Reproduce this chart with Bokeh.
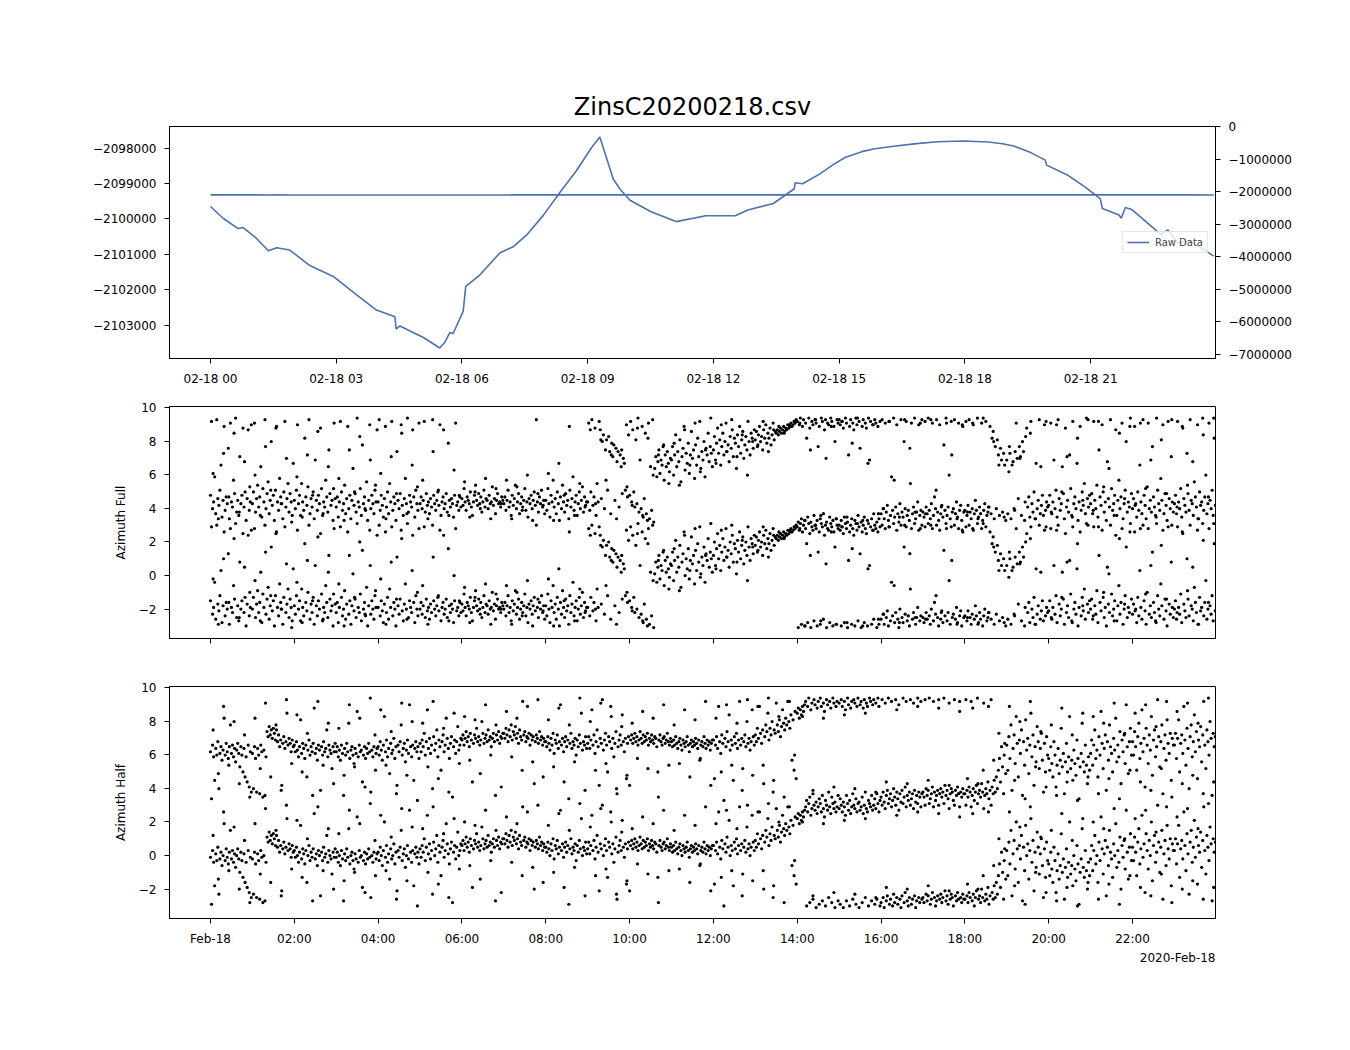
import math
from bokeh.plotting import figure
from bokeh.models import (Range1d, LinearAxis, FixedTicker, Legend, LegendItem, Title)
from bokeh.layouts import column
from bokeh.embed import file_html
from bokeh.resources import INLINE

TITLE = "ZinsC20200218.csv"

# ---- top panel: raw data (hours since 2020-02-18 00:00, raw value) ----
RAW_T = [0.00, 0.30, 0.66, 0.78, 1.10, 1.38, 1.58, 1.89, 2.37, 2.93, 3.48, 3.96,
         4.40, 4.43, 4.52, 5.08, 5.47, 5.59, 5.71, 5.79, 6.03, 6.09, 6.43, 6.91,
         7.22, 7.54, 7.94, 8.34, 8.73, 9.09, 9.29, 9.61, 9.77, 10.01, 10.51, 11.11,
         11.82, 12.52, 12.82, 13.43, 13.93, 13.95, 14.13, 14.54, 14.84, 15.14, 15.54,
         15.85, 16.35, 16.85, 17.35, 17.96, 18.56, 18.90, 19.16, 19.57, 19.92, 19.95,
         20.47, 20.87, 21.23, 21.28, 21.68, 21.73, 21.83, 21.98, 22.68, 22.84, 23.09,
         23.39, 23.94]
RAW_V = [-2099648, -2099980, -2100271, -2100243, -2100551, -2100897, -2100813, -2100877,
         -2101315, -2101622, -2102134, -2102572, -2102760, -2103110, -2103019, -2103344,
         -2103640, -2103485, -2103205, -2103232, -2102600, -2101902, -2101575, -2100952,
         -2100785, -2100458, -2099899, -2099249, -2098642, -2097991, -2097690, -2098874,
         -2099154, -2099472, -2099796, -2100075, -2099908, -2099908, -2099749, -2099564,
         -2099148, -2098980, -2099008, -2098729, -2098480, -2098265, -2098101,
         -2098020, -2097941, -2097875, -2097821, -2097801, -2097829, -2097880, -2097941,
         -2098128, -2098341, -2098481, -2098777, -2099101, -2099425, -2099704, -2099889,
         -2099982, -2099676, -2099732, -2100444, -2100307, -2100676, -2100628, -2101047]

TOP_TICK_HOURS = [0, 3, 6, 9, 12, 15, 18, 21]
TOP_TICK_LABELS = ["02-18 00", "02-18 03", "02-18 06", "02-18 09",
                   "02-18 12", "02-18 15", "02-18 18", "02-18 21"]
BOT_TICK_HOURS = [0, 2, 4, 6, 8, 10, 12, 14, 16, 18, 20, 22]
BOT_TICK_LABELS = ["Feb-18", "02:00", "04:00", "06:00", "08:00", "10:00",
                   "12:00", "14:00", "16:00", "18:00", "20:00", "22:00"]
DATE_OFFSET_LABEL = "2020-Feb-18"
LEFT_TICKS = [-2103000, -2102000, -2101000, -2100000, -2099000, -2098000]
RIGHT_TICKS = [0, -1000000, -2000000, -3000000, -4000000, -5000000, -6000000, -7000000]
AZ_TICKS = [-2, 0, 2, 4, 6, 8, 10]
LEGEND_LABEL = "Raw Data"
AZ_FULL_LABEL = "Azimuth Full"
AZ_HALF_LABEL = "Azimuth Half"

# ---- azimuth phases in [-pi, pi], one row per hour (samples evenly spread within the hour) ----
AZ_FULL = [
 [-1.5, 2.9, -2.3, -1.9, -0.4, -2.6, 3.0, -1.7, -2.1, -1.2, 0.3, -2.8, -1.8, 2.6, -2.4, -1.6, -2.0, 1.3, -2.9, 2.8, -1.9, -2.2, -0.6, -1.4, 3.1, -2.5, -1.8, -2.7, 0.8, -2.0, -1.5, 2.5, -2.2, -1.3, -3.0, -1.7, 2.4, -2.4, -1.9, 2.7],
 [-2.0, -1.3, 2.8, -2.5, -1.7, -0.9, -2.2, -1.6, 0.2, -2.8, -1.1, -1.9, 3.0, -2.3, -1.4, -0.7, -2.6, -1.8, 1.7, -2.1, -1.5, -3.0, -1.2, 2.6, -1.9, -2.4, -0.5, -1.6, -2.0, -2.9, -1.3, 2.9, -2.2, -1.7, -0.8, -2.5, -1.4, -1.9, -2.7, 0.4],
 [-1.8, -2.3, -1.2, 2.7, -2.0, -1.5, -2.7, -0.8, -1.9, -2.4, 1.9, -1.6, -2.1, -1.0, 3.0, -2.6, -1.7, -2.2, -1.3, -2.9, 0.6, -1.8, -2.4, -1.5, -2.0, 2.5, -1.1, -2.7, -1.9, -2.2, -0.6, -1.6, -2.5, 1.2, -1.4, -2.1, -1.8, -3.0, 2.8, -1.7],
 [-2.2, -1.6, -2.8, -1.9, 2.9, -1.3, -2.4, -2.0, -0.9, -2.6, -1.7, 2.6, -2.3, -1.5, -2.9, -1.8, 0.1, -2.1, -1.4, -2.5, 3.1, -1.9, -2.2, -1.1, -2.7, 1.5, -2.0, -1.6, -2.4, -0.7, -3.0, -1.8, 2.7, -2.3, -1.5, -2.0, -2.6, -1.2, -1.9, 2.4],
 [-1.9, 3.0, -2.4, -1.5, -2.1, -2.8, -1.7, 2.6, -2.2, -1.3, -2.6, -0.8, -1.9, 2.9, -2.4, -1.6, -2.0, -3.0, 1.1, -1.8, -2.3, -1.4, 2.7, -2.1, -2.7, -1.7, -0.5, -2.0, 3.1, -2.5, -1.5, -1.9, -2.2, 2.4, -1.6, -2.8, -1.2, -2.0, -2.4, 2.8],
 [-2.0, -1.6, -2.3, -1.8, 2.9, -2.5, -1.4, -2.1, -1.9, -2.6, -1.7, -2.2, 3.0, -1.5, -2.0, -2.4, -1.8, -1.3, -2.1, 2.7, -2.7, -1.9, -1.6, -2.3, -2.0, -1.4, -2.5, 1.6, -1.8, -2.2, -1.7, -2.0, -2.8, -1.5, 2.8, -2.1, -1.9, -2.4, -1.6, -2.2],
 [-1.7, -2.1, -1.1, -1.9, -2.4, -1.6, -1.8, -2.0, -1.3, -2.2, -2.7, -1.9, -1.5, -0.9, -1.8, -2.1, -1.4, -2.0, -1.6, -2.5, -1.9, -1.2, -2.2, -1.7, -1.8, -2.3, -1.5, -2.0, -1.9, -1.0, -2.1, -1.7, -2.6, -1.8, -1.4, -2.0, -1.9, -2.2, -1.6, -1.8],
 [-2.0, -1.6, -2.4, -1.8, -1.2, -2.2, -1.9, -2.7, -1.5, -2.1, -1.7, -0.9, -2.3, -1.9, -1.4, -2.6, -2.0, -1.6, -2.2, -1.8, -1.1, -2.4, -1.9, -2.8, -1.7, -2.0, -1.5, -2.3, -1.8, -1.3, -2.1, 3.0, -1.9, -2.5, -1.6, -2.0, -1.2, -2.2, -1.8, -2.6],
 [-1.8, -2.4, -1.1, -2.0, -2.8, -1.5, -1.9, -0.6, -2.2, -1.7, -2.6, -1.3, -2.0, -3.0, -1.6, -2.3, -0.9, -1.9, -2.5, -1.4, -2.1, -1.8, -2.9, -1.2, -2.2, -1.7, -0.4, -2.4, -1.9, -1.5, -2.7, -2.0, -1.3, -2.3, -1.8, -1.0, -2.5, -1.6, -2.1, -1.9],
 [-1.9, 2.8, -2.4, -1.3, 3.0, -2.1, -1.6, 2.5, -2.7, -0.8, -1.9, 2.9, 2.4, -1.7, 1.7, 2.1, -2.3, 1.2, 1.8, -1.2, 2.0, 1.1, -2.6, 1.6, 0.8, 1.5, -1.8, 1.3, 0.5, 1.1, -2.2, 0.9, 0.2, -1.4, 0.7, 0.4, -1.2, 2.7, -1.6, 2.1],
 [-1.5, 2.9, -1.9, 2.4, -1.3, -2.2, 1.8, -2.0, 3.1, -2.5, 0.6, -2.3, 2.6, -2.8, -1.7, 2.2, -2.6, -3.0, 2.8, -2.9, 0.2, -2.4, 3.0, -3.1, 0.1, 0.8, -0.4, 0.5, 1.2, -0.2, 0.6, 0.3, 1.4, -0.6, 0.9, 0.2, 1.1, 0.4, -0.1, 0.7],
 [0.6, 1.4, -0.3, 0.9, 2.1, 0.2, 1.1, 0.5, 1.8, -0.7, 0.8, 1.3, 2.6, 0.0, 1.0, 0.4, 1.6, -0.2, 0.9, 2.3, 0.7, 1.2, -0.5, 1.5, 0.3, 1.9, 0.8, 2.9, 0.1, 1.1, 0.6, 1.7, -0.4, 1.3, 0.9, 2.2, 0.5, 1.4, 1.0, 0.2],
 [1.2, 2.0, 0.6, 1.6, 2.5, 1.0, 1.8, 0.3, 1.4, 2.2, 0.9, 1.7, 2.8, 1.1, 1.5, 0.5, 2.0, 1.3, 2.4, 0.8, 1.9, 1.6, 0.1, 2.1, 1.4, 2.6, 1.0, 1.8, 2.3, 0.7, 1.5, 2.0, 1.2, 2.9, 1.7, 0.9, 2.2, 1.9, 1.3, 2.4],
 [1.8, 2.3, 1.4, 2.1, 2.6, 1.7, 2.0, 1.2, 2.4, 1.9, 2.7, 1.6, 2.2, 1.9, 2.5, 1.5, 2.1, 2.8, 1.8, 2.3, 2.2, 2.4, 2.1, 2.3, 2.5, 2.2, 2.4, 2.6, 2.3, 2.5, 2.4, 2.7, 2.5, 2.6, 2.8, 2.6, 2.7, 2.9, 2.8, 3.0],
 [2.9, -3.1, 2.7, 3.1, -2.9, 2.6, 3.0, -3.0, 2.8, 1.9, -2.8, 3.1, 2.5, -3.1, 2.9, 2.7, -2.7, 3.0, 2.8, -3.0, 1.4, 2.6, -2.9, 3.1, 2.9, -2.6, 2.4, 3.0, -3.1, 2.8, 2.7, -2.8, 3.1, 2.9, -3.0, 2.6, 1.7, -2.9, 3.0, 2.8],
 [3.0, 2.7, -3.0, 2.9, 2.5, -2.8, 3.1, 2.8, -3.1, 0.9, 2.6, 3.0, -2.9, 2.8, 2.4, -3.0, 3.1, 2.7, -2.7, 2.9, 1.3, -3.1, 2.6, 3.0, -2.8, 2.8, 2.5, -3.0, 3.1, 0.6, 2.9, -2.9, 2.7, -2.6, 3.0, 2.8, -3.1, 2.6, -2.9, 2.9],
 [-2.6, 3.0, -2.3, -2.9, 2.8, -2.5, -2.1, -3.0, 2.9, -2.7, -0.4, -2.4, 3.1, -2.8, -2.2, 2.7, -2.6, -3.1, -2.0, 3.0, -2.5, -2.8, 1.7, -2.3, 2.9, -2.7, -2.4, -3.0, -0.8, 2.8, -2.6, -2.2, 3.1, -2.9, -2.5, -1.9, 2.7, -2.7, -2.4, 3.0],
 [-2.5, -2.8, 2.9, -2.2, -2.6, 3.1, -2.4, -2.9, -2.0, 2.8, -2.7, -1.6, -2.3, 3.0, -2.5, -3.0, 2.7, -2.6, -2.1, -2.8, 1.5, -2.4, 3.1, -2.7, -2.2, -0.3, -2.9, 2.9, -2.5, -2.3, 3.0, -2.6, -1.9, -2.8, 2.8, -2.4, -2.1, -3.0, 2.6, -2.5],
 [-2.4, 2.9, -2.7, -2.1, 3.0, -2.5, -2.9, -2.3, 2.7, -2.6, -1.8, -2.4, 3.1, -2.8, -2.2, -2.6, 2.8, -3.0, -2.4, -2.0, 2.9, -2.7, -2.5, -2.2, 2.6, -2.6, 1.9, 2.3, -2.9, 1.4, -2.3, 1.8, 0.9, -2.7, 1.3, 0.6, -2.5, 1.0, 0.3, -3.0],
 [0.6, -2.6, -0.1, 1.0, -2.9, 0.3, 0.5, -2.3, 1.1, 2.8, 0.7, -1.7, 1.4, 0.8, -2.7, 1.7, 1.1, -3.0, 2.0, 2.5, -2.2, -1.6, -2.8, 2.9, -2.0, -2.5, -1.3, -2.9, 0.4, -2.3, -1.8, 3.0, -2.6, -2.1, -1.5, -2.7, 2.7, -2.4, -1.9, -2.2],
 [-2.1, -1.5, 2.8, -2.6, -1.9, 0.6, -2.3, -1.2, -2.8, 3.0, -1.7, -2.4, -2.0, 0.2, -1.4, -2.9, 2.5, -2.2, -1.8, -2.5, 0.9, -1.1, -2.7, 2.9, -2.0, -1.6, -2.3, 0.4, -3.0, -1.9, 2.6, -2.4, -1.3, -2.1, -0.8, -2.6, 3.1, -1.7, -2.2, -1.5],
 [-2.0, -1.4, -2.6, 2.9, -1.8, -2.3, -0.9, -2.8, 1.2, -1.6, -2.1, 2.7, -1.3, -2.5, -1.9, -3.0, 0.5, -1.7, -2.2, 3.0, -1.1, -2.4, -2.0, -1.5, 2.4, -2.7, -1.8, -0.6, -2.3, -1.6, 2.8, -2.9, -2.0, -1.2, 1.7, -2.5, -1.9, -2.2, 3.1, -1.4],
 [-2.3, -1.7, 2.6, -2.0, -2.8, -1.3, -2.4, 0.3, -1.9, -2.6, 3.0, -1.5, -2.1, -2.9, -1.0, 2.8, -2.3, -1.8, -2.5, 1.4, -1.6, -2.2, -2.7, 3.1, -1.2, -2.0, -2.4, -0.5, -1.8, 2.7, -2.6, -1.4, -2.1, -3.0, 2.9, -1.7, -2.3, 0.8, -1.9, -2.5],
 [-2.0, -1.5, -2.6, 2.9, -1.9, -2.3, -1.1, -2.8, 2.5, -1.7, -2.1, -2.5, 1.0, -1.4, -2.4, 3.0, -1.8, -2.0, -2.7, -0.7, -1.6, -2.2, 2.7, -2.9, -1.3, -2.1, -1.9, 3.1, -2.4, -1.6, -0.3, -2.6, -2.0, 2.8, -1.8, -2.3, -1.2, -2.7, 1.9, -2.1],
]
# interleaved second sample set per hour (mostly the scattered points)
AZ_FULL_EXTRA = [
 [-0.2, -2.9, 1.0, -1.6, 2.2, -2.5, 0.5, -1.0],
 [-0.3, -2.7, 1.4, -1.2, 2.5, -2.0, 0.7, -3.1],
 [-0.4, -2.8, 0.9, -1.5, 2.3, -2.6, 0.2, -1.1],
 [-0.5, -3.0, 1.2, -1.3, 2.0, -2.3, 0.6, -0.9],
 [-0.2, -2.9, 0.8, -1.4, 2.2, -2.6, 0.3, -1.0],
 [-0.6, -2.9, 1.1, -1.2, 2.4, -2.7, 0.0, -1.5],
 [-0.7, -2.8, -1.3, -2.3, -0.5, -2.9, -1.1, -2.0],
 [-0.6, -2.9, -1.0, -2.4, -0.3, -3.0, -1.4, -2.1],
 [-0.2, -3.0, 0.4, -1.5, 2.6, -2.7, -0.8, -2.2],
 [2.4, -2.0, 1.8, -0.6, 0.9, -2.9, 1.2, -1.0],
 [-2.1, 2.5, -2.7, 1.9, -0.3, 0.9, 1.5, -0.8],
 [1.6, -0.9, 2.4, 0.3, 2.8, -0.1, 1.2, 3.1],
 [0.4, 2.7, 1.1, 3.0, 0.8, 2.1, -0.3, 1.7],
 [1.5, 2.9, 1.1, 2.4, 2.6, 2.2, 2.7, 2.9],
 [2.8, -3.0, 1.2, 3.0, -2.7, 0.7, 2.6, -2.9],
 [2.9, -2.8, 1.6, 3.1, -3.0, 0.4, 2.7, -2.6],
 [-2.3, 2.9, -0.6, -2.8, 3.0, 1.3, -2.5, 2.8],
 [-2.6, 3.0, -1.2, -2.2, 2.8, 0.9, -2.9, 2.7],
 [-2.5, 2.8, -2.9, 3.1, -2.2, 1.7, 0.3, -2.8],
 [1.4, -2.4, 0.7, -1.9, 2.2, -2.9, 0.2, 2.9],
 [-2.5, 2.7, -1.3, 0.8, -2.8, 1.9, -1.8, 3.0],
 [-2.4, 2.9, -1.0, 0.1, -2.7, 2.2, -1.7, 2.6],
 [-2.1, 2.8, -1.1, 0.6, -2.8, 1.8, -1.4, 3.0],
 [-2.2, 2.6, -0.9, 0.5, -2.9, 2.1, -1.6, 3.1],
]

AZ_HALF = [
 [-0.1, -2.9, 0.3, -0.4, -1.8, 0.1, -0.3, 0.5, -2.3, -0.2, 0.2, -0.6, 0.0, 1.9, -0.3, 0.4, -0.1, -0.5, 0.2, 1.5, -0.2, 0.3, -0.4, 0.1, -0.7, 0.0, 0.4, -0.2, -1.0, 0.2, -0.3, -1.3, 0.1, -1.6, -0.4, -1.9, 0.3, -2.2, -0.1, -2.5],
 [-0.2, -2.3, 0.2, -0.5, -2.5, 0.1, -0.3, -2.6, 0.3, -0.1, -2.8, 0.0, -2.7, -0.4, 1.1, 0.8, 1.4, 0.9, 1.2, 0.7, 1.3, 1.0, 0.6, 1.2, 0.5, 0.9, 0.2, 0.6, -2.1, 0.4, 0.8, 0.1, 0.5, 2.2, 0.3, 0.7, 0.4, -0.1, 0.6, 0.2],
 [0.3, -0.1, 0.5, 0.0, -0.4, 0.2, 1.8, -0.2, 0.4, 0.1, -0.5, 0.3, -1.6, 0.0, 0.6, -0.3, 0.2, -0.1, 0.4, 2.5, -0.2, 0.1, -0.6, 0.3, 0.0, -2.4, 0.2, -0.3, 0.5, -0.1, 0.1, 1.2, -0.4, 0.3, 0.0, -0.2, -1.1, 0.2, -0.1, 0.4],
 [-0.1, 0.2, -0.4, 0.0, -0.6, 0.3, -0.2, -2.7, 0.1, -0.3, 0.4, -0.1, 1.6, -0.5, 0.0, 0.2, -0.3, -0.8, 0.1, -0.2, 2.3, -0.4, 0.3, -0.1, 0.0, -1.9, -0.3, 0.2, -0.5, 0.1, -0.2, 0.4, -0.1, -2.5, 0.0, -0.4, 0.2, 0.9, -0.2, 0.1],
 [0.2, -0.3, 0.5, 0.0, -0.6, 0.3, 2.0, -0.1, 0.6, -0.4, 0.1, -1.4, 0.4, -0.2, 0.0, 0.7, -0.5, 0.2, -2.1, 0.3, -0.1, 0.5, 1.5, -0.3, 0.1, 0.4, -0.7, 0.0, 0.6, -0.2, 2.7, 0.2, -0.4, 0.3, -1.8, 0.1, 0.5, -0.1, 0.2, -0.5],
 [0.4, -0.1, 0.6, 0.2, 1.0, -0.3, 0.5, 2.4, 0.1, 0.7, -0.2, 0.3, -2.3, 0.8, 0.0, 0.4, 1.2, -0.4, 0.6, 0.2, -1.2, 0.5, 0.9, -0.1, 0.3, 1.9, 0.7, 0.1, -0.5, 0.4, 0.8, -2.8, 0.2, 0.6, -0.2, 0.5, 1.4, 0.0, 0.3, 0.7],
 [0.6, 0.9, 0.3, 0.7, 1.1, 0.5, 0.8, 0.2, 1.0, 0.6, -1.9, 0.4, 0.9, 0.7, 1.3, 0.5, 0.8, 0.3, 0.6, 1.7, 1.0, 0.4, 0.7, 0.9, 0.5, 1.2, 0.6, 0.8, 0.2, 0.7, 1.0, 0.5, -2.7, 0.9, 0.6, 1.1, 0.4, 0.8, 0.7, 1.0],
 [1.0, 0.7, 1.3, 0.9, 0.5, 1.2, 0.8, 1.5, 0.6, 1.1, 0.9, 1.4, 0.7, 1.0, 0.4, 1.2, 0.8, 0.6, 2.9, 0.9, 1.1, 0.5, 0.8, 0.7, 1.0, 0.3, 0.9, 0.6, 0.8, -2.0, 0.5, 0.9, 0.7, 0.4, 1.1, 0.6, 0.8, 0.3, 0.7, 0.5],
 [0.5, 0.2, 0.8, 0.4, 0.0, 0.7, 0.3, 1.0, -0.2, 0.6, 0.4, 0.9, 0.1, 0.5, 2.7, 0.3, 0.7, -0.1, 0.5, 0.8, 0.2, 0.6, -2.9, 0.4, 1.0, 0.1, 0.5, 0.3, 0.7, -0.3, 0.6, 0.2, 0.9, 0.4, 2.2, 0.0, 0.5, 0.3, 0.8, 0.1],
 [0.4, 0.8, 0.1, 0.6, 2.4, 0.3, 0.9, -0.2, 0.5, 1.2, 0.2, -2.1, 0.7, 0.4, 3.0, 0.0, 0.6, 1.0, 0.3, -1.3, 0.8, 0.5, 2.6, 0.1, 0.7, -0.4, 0.4, 1.1, -2.6, 0.2, 0.6, 0.9, 0.3, 2.1, 0.5, -0.1, 0.7, -1.7, 0.4, 0.8],
 [-2.1, 0.6, 0.9, 0.4, 0.7, 1.0, 0.5, 0.8, 0.3, 0.6, 1.1, 0.7, 0.4, 0.9, 0.5, 0.8, 0.6, 1.0, 0.3, 0.7, 0.5, 0.9, 0.6, 0.4, 0.8, 0.7, 0.2, -1.3, 0.6, 0.9, 0.5, 0.3, 0.7, 0.8, 0.4, 0.6, 1.0, 0.5, 0.3, 0.7],
 [0.5, 0.2, 0.6, 0.3, 0.8, 0.4, 0.1, 0.5, 0.7, 0.3, 0.0, 0.6, 0.4, 0.2, 0.5, 0.8, 0.3, -0.1, 0.4, 0.6, 0.2, 0.5, 0.3, 0.7, 0.4, 0.1, 0.6, -0.6, 0.3, 0.5, 0.2, 0.8, 0.4, 0.1, 0.6, 0.3, 0.5, 0.0, 0.4, 0.6],
 [0.6, -1.7, 0.3, 0.8, 0.1, 2.6, 0.5, -0.2, 0.9, 0.4, -3.0, 0.7, 0.2, 1.1, 0.5, 2.1, 0.0, 0.6, 0.3, -1.8, 0.8, 0.4, 1.0, 0.1, 0.6, 2.9, 0.3, 0.7, -1.1, 0.5, 0.9, 0.2, 1.7, 0.4, 0.7, 0.0, 0.5, 2.4, 0.8, 0.3],
 [0.9, 0.5, 1.3, 0.7, 2.6, 1.0, 0.4, 1.2, -2.0, 0.8, 1.5, 1.1, 2.2, 0.6, 1.3, 0.9, 1.7, -2.5, 1.2, 1.0, 2.8, 1.5, 1.1, 1.8, 0.8, 1.4, 2.4, 1.6, 1.2, 1.9, 1.5, 2.9, 1.7, 1.3, 2.1, -0.6, 1.8, -1.2, 2.3, -1.7],
 [2.2, 2.5, 1.9, 2.4, 2.1, 2.6, 2.3, 2.7, 2.9, -3.0, 2.6, 3.1, -2.8, 2.4, 2.8, -2.6, 3.0, 2.7, -3.1, 2.5, 2.9, -2.9, 3.1, 2.6, -2.7, 2.8, 2.3, -3.0, 3.0, 2.7, -2.5, 2.9, 2.5, -2.8, 3.1, 2.8, -3.1, 2.6, 2.9, -2.7],
 [2.8, -2.9, 3.0, 2.6, -3.1, 2.9, 2.4, -2.7, 3.1, 2.7, -3.0, 2.5, 2.9, -2.6, 3.0, 2.8, -2.9, 2.6, 3.1, -3.1, 2.7, 2.9, -2.8, 2.5, 3.0, -2.5, 2.8, 2.6, -3.0, 3.1, 2.9, -2.7, 2.7, 3.0, -2.9, 2.8, -2.6, 3.1, 2.6, -3.0],
 [-2.8, 3.0, -2.5, -3.1, 2.8, -2.7, -2.4, 3.1, -2.9, -2.6, 2.9, -3.0, -2.3, -2.8, 3.0, -2.5, -2.9, 2.7, -2.6, -3.1, -2.4, 3.1, -2.8, -2.2, 2.9, -2.7, -3.0, -2.5, 3.0, -2.9, -2.6, 2.8, -2.4, -3.1, -2.7, 3.1, -2.5, -2.8, 2.9, -2.6],
 [-2.5, -2.8, 3.0, -2.3, -2.7, -2.4, 3.1, -2.9, -2.6, -2.2, 2.9, -2.5, -3.0, -2.7, -2.4, 3.0, -2.6, -2.3, -2.8, -2.5, 3.1, -2.1, -2.7, -2.4, -2.9, 2.8, -2.6, -2.3, -2.5, -3.0, 3.0, -2.4, -2.7, -2.2, -2.6, 2.9, -2.5, -2.8, -2.3, -2.6],
 [-2.6, 3.0, -2.4, -2.8, -2.2, -2.5, 2.9, -2.7, -2.3, -3.0, -2.5, -2.1, 3.1, -2.6, -2.4, -2.8, -2.0, -2.5, 2.8, -2.7, -2.3, -2.6, -1.9, -2.9, -2.4, 3.0, -2.2, -2.6, -1.8, -2.5, -1.6, -2.3, -1.2, -0.5, -1.9, 0.2, -1.0, -2.6, 0.4, -1.4],
 [0.3, -1.2, 0.8, -0.5, 1.5, -2.4, 0.1, 0.9, -0.8, 2.0, 0.4, -1.6, 0.6, -0.2, 1.2, -2.7, 0.5, -0.9, 1.8, 0.0, 0.7, -1.4, 0.3, 2.2, -0.4, 0.9, -2.1, 0.2, -0.7, 1.4, 0.5, -1.1, 0.1, 1.0, -0.6, -2.5, 0.4, -1.3, 0.8, -0.3],
 [-0.5, -1.2, 0.2, -0.8, -1.6, 0.5, -0.3, -2.2, -0.9, 0.1, -1.4, -0.6, 1.3, -1.0, -0.2, -2.6, -0.7, 0.4, -1.3, -0.4, 2.0, -1.1, -0.6, -1.8, 0.0, -0.8, -1.5, 0.6, -0.5, -2.9, -1.0, -0.2, 1.6, -0.7, -1.3, 0.3, -0.9, -2.0, -0.4, -1.2],
 [-0.2, 0.6, -0.9, 0.3, 1.2, -0.5, 0.0, -1.6, 0.8, -0.3, 2.3, 0.4, -1.1, 0.1, 0.9, -2.4, 0.5, -0.6, 1.5, 0.2, -0.2, -1.3, 0.7, 0.0, 1.9, -0.7, 0.3, -0.4, 1.1, -2.0, 0.6, -0.1, 0.9, -0.8, 2.7, 0.2, -1.4, 0.5, 1.3, -0.3],
 [0.5, -0.3, 1.1, 0.2, -1.2, 0.8, 1.6, -0.5, 0.4, 2.4, -0.1, 0.7, -2.2, 1.3, 0.3, -0.8, 0.9, 0.0, 2.0, -1.5, 0.6, 1.2, -0.4, 0.2, 3.0, 0.8, -1.0, 0.5, 1.5, -2.6, 0.1, 0.9, -0.6, 1.8, 0.4, -0.2, 1.0, -1.8, 0.7, 0.3],
 [0.3, 1.0, -0.5, 0.7, 1.8, -1.3, 0.4, 0.9, -0.2, 2.6, 0.6, -0.9, 1.3, 0.1, -2.3, 0.8, 1.5, -0.4, 0.5, 2.1, -0.1, 1.1, -1.7, 0.6, 0.2, 1.4, -0.7, 0.9, 2.9, 0.3, -1.1, 1.2, 0.5, -0.3, 1.7, 0.7, -2.7, 1.0, 0.2, 0.8],
]
AZ_HALF_EXTRA = [
 [1.2, -1.4, 2.6, -0.9, 1.7, -2.0, 0.9, -2.8],
 [1.9, -1.1, 2.8, -1.6, 1.5, -2.4, 3.0, -0.8],
 [2.1, -1.3, 1.0, -2.7, 2.9, -0.9, 1.6, -2.0],
 [1.3, -1.5, 2.7, -1.0, 1.9, -2.2, 3.1, -1.2],
 [2.4, -0.9, 1.1, -2.6, 2.8, -1.5, 1.7, -3.0],
 [1.6, -1.0, 2.9, -1.7, 1.3, -2.5, 2.2, -0.8],
 [2.0, -0.6, 1.8, -1.4, 2.7, -0.3, 1.5, -2.2],
 [2.3, -0.4, 1.9, -1.2, 2.6, -0.7, 3.0, -1.6],
 [1.8, -1.0, 2.5, -1.9, 1.5, -0.7, 3.1, -2.4],
 [1.7, -1.2, 2.8, -0.8, 2.0, -2.3, 1.4, -1.5],
 [1.6, -0.5, 2.3, -1.1, 1.9, -2.8, 2.7, -0.9],
 [1.5, -0.8, 2.4, -1.6, 1.8, -0.5, 2.9, -2.1],
 [1.9, -1.3, 2.7, -0.9, 1.6, -2.4, 3.0, -1.5],
 [2.6, -0.9, 3.1, -1.8, 2.0, -2.8, 2.9, -0.3],
 [2.0, -2.4, 1.9, -2.2],
 [2.1, -2.3, 2.2, -2.5],
 [-1.9, 2.4, -2.0, 2.6],
 [-1.8, 2.5, -2.1, 2.3],
 [-1.7, 2.5, -2.0, -1.2, 2.6, -0.6, 1.0, -0.3],
 [2.6, -1.8, 1.7, -2.9, 2.9, -1.0, 1.1, -2.2],
 [1.5, -2.7, 2.5, -1.9, 0.9, -3.0, 2.2, -1.6],
 [2.0, -2.6, 1.6, -1.7, 2.8, -2.9, 1.0, -1.2],
 [2.2, -1.9, 2.7, -2.4, 1.4, -1.1, 2.9, -2.8],
 [2.3, -2.0, 2.8, -1.5, 1.6, -2.6, 3.1, -1.9],
]

FONT = "DejaVu Sans"
LINE_COLOR = "#4c72b0"
X_RANGE = (-0.978, 23.98)
TOP_Y_RANGE = (-2103937, -2097392)
RIGHT_Y_RANGE = (-7123000, 0)
AZ_Y_RANGE = (-3.75, 10.07)
TOTAL_W = 1334
B_LEFT, B_RIGHT = 169, 119


def minus(v):
    s = str(int(abs(v)))
    return ("\u2212" + s) if v < 0 else s


def style_axis(ax, labels=True):
    ax.axis_line_color = "black"
    ax.axis_line_width = 1
    ax.major_tick_line_color = "black"
    ax.major_tick_out = 5
    ax.major_tick_in = 0
    ax.minor_tick_out = 0
    ax.minor_tick_in = 0
    ax.major_label_text_font = FONT
    ax.major_label_text_font_size = "12px"
    ax.major_label_text_color = "black" if labels else None
    ax.major_label_standoff = 8 if labels else 0
    ax.axis_label_text_font = FONT
    ax.axis_label_text_font_size = "12px"
    ax.axis_label_text_font_style = "normal"
    ax.axis_label_text_color = "black"
    ax.axis_label_standoff = 8


def base_fig(height, top, bottom, y_range):
    p = figure(width=TOTAL_W, height=height, x_range=Range1d(*X_RANGE),
               y_range=Range1d(*y_range), output_backend="svg", toolbar_location=None,
               min_border_left=B_LEFT, min_border_right=B_RIGHT,
               min_border_top=top, min_border_bottom=bottom)
    p.xgrid.visible = False
    p.ygrid.visible = False
    p.outline_line_color = "black"
    p.outline_line_width = 1
    p.background_fill_color = "white"
    p.border_fill_color = "white"
    return p


# ---------------- top panel ----------------
p1 = base_fig(398, 126, 40, TOP_Y_RANGE)
p1.title.text = TITLE
p1.title.align = "center"
p1.title.text_font = FONT
p1.title.text_font_size = "24px"
p1.title.text_font_style = "normal"
p1.title.text_color = "black"
p1.title.standoff = 12
p1.extra_y_ranges = {"right": Range1d(*RIGHT_Y_RANGE)}
p1.line(RAW_T, RAW_V, line_color=LINE_COLOR, line_width=1.6)
r_right = p1.line(RAW_T, RAW_V, line_color=LINE_COLOR, line_width=1.6, y_range_name="right")

p1.xaxis.ticker = FixedTicker(ticks=TOP_TICK_HOURS)
p1.xaxis.major_label_overrides = {h: lab for h, lab in zip(TOP_TICK_HOURS, TOP_TICK_LABELS)}
p1.yaxis.ticker = FixedTicker(ticks=LEFT_TICKS)
p1.yaxis.major_label_overrides = {v: minus(v) for v in LEFT_TICKS}
style_axis(p1.xaxis[0])
style_axis(p1.yaxis[0])
right_axis = LinearAxis(y_range_name="right", ticker=FixedTicker(ticks=RIGHT_TICKS),
                        major_label_overrides={v: minus(v) for v in RIGHT_TICKS})
style_axis(right_axis)
p1.add_layout(right_axis, "right")

legend = Legend(items=[LegendItem(label=LEGEND_LABEL, renderers=[r_right])],
                location="center_right", margin=7, padding=4, spacing=0,
                glyph_width=22, glyph_height=12, label_height=12, label_standoff=6,
                label_text_font=FONT, label_text_font_size="10px",
                border_line_color="#cccccc", border_line_width=1,
                background_fill_alpha=0.8)
p1.add_layout(legend)


def az_points(rows, offset=0.0):
    xs, ys = [], []
    for h, row in enumerate(rows):
        n = len(row)
        for k, v in enumerate(row):
            t = h + (k + offset) / n
            xs.extend([t, t])
            ys.extend([v, v + 2 * math.pi])
    return xs, ys


def add_scatter(p, rows, extra):
    x1, y1 = az_points(rows)
    x2, y2 = az_points(extra, 0.5)
    p.scatter(x1 + x2, y1 + y2, marker="circle", size=3.2,
              fill_color="black", line_color=None)


# ---------------- middle panel ----------------
p2 = base_fig(264, 8, 24, AZ_Y_RANGE)
add_scatter(p2, AZ_FULL, AZ_FULL_EXTRA)
p2.xaxis.ticker = FixedTicker(ticks=BOT_TICK_HOURS)
style_axis(p2.xaxis[0], labels=False)
p2.yaxis.ticker = FixedTicker(ticks=AZ_TICKS)
p2.yaxis.major_label_overrides = {v: minus(v) for v in AZ_TICKS}
p2.yaxis.axis_label = AZ_FULL_LABEL
style_axis(p2.yaxis[0])

# ---------------- bottom panel ----------------
p3 = base_fig(316, 24, 60, AZ_Y_RANGE)
add_scatter(p3, AZ_HALF, AZ_HALF_EXTRA)
p3.xaxis.ticker = FixedTicker(ticks=BOT_TICK_HOURS)
p3.xaxis.major_label_overrides = {h: lab for h, lab in zip(BOT_TICK_HOURS, BOT_TICK_LABELS)}
style_axis(p3.xaxis[0])
p3.yaxis.ticker = FixedTicker(ticks=AZ_TICKS)
p3.yaxis.major_label_overrides = {v: minus(v) for v in AZ_TICKS}
p3.yaxis.axis_label = AZ_HALF_LABEL
style_axis(p3.yaxis[0])
p3.add_layout(Title(text=DATE_OFFSET_LABEL, align="right", text_font=FONT,
                    text_font_size="12px", text_font_style="normal",
                    text_color="black", standoff=0), "below")

layout = column(p1, p2, p3, spacing=0)
open("out.html", "w").write(file_html(layout, INLINE))
